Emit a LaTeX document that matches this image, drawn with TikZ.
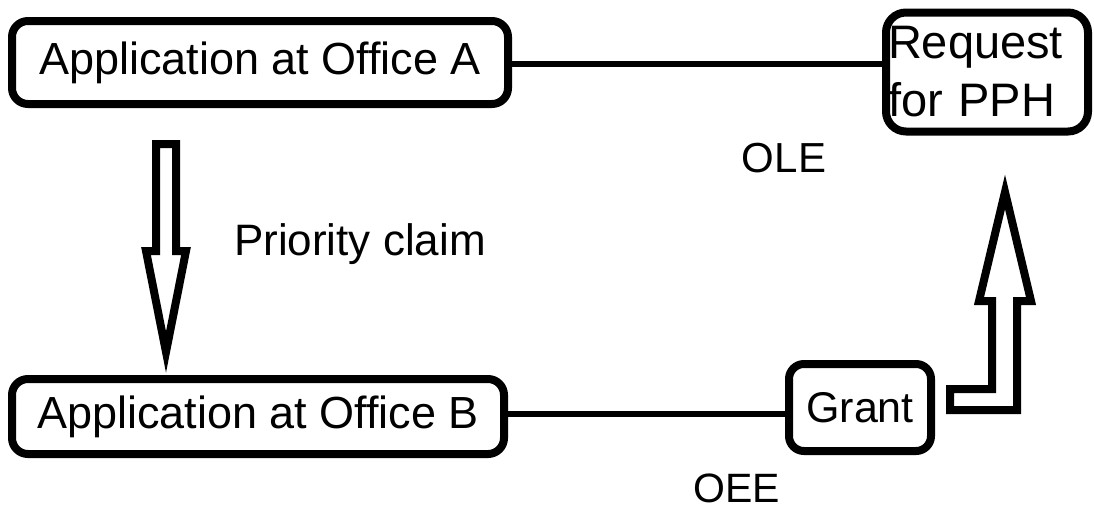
\documentclass[tikz,border=0pt]{standalone}
\usepackage{fontspec}
\setmainfont{Liberation Sans}
\begin{document}
\begin{tikzpicture}[x=1pt,y=-1pt,
  box/.style={draw, line width=8pt, rounded corners=16pt, inner sep=0pt},
  lbl/.style={anchor=base, inner sep=0pt},
  link/.style={line width=6pt},
  hollow/.style={line width=8pt, line join=miter, miter limit=20}]
\useasboundingbox (0,0) rectangle (1094,509);

\node[box, minimum width=496pt, minimum height=83pt, font=\fontsize{45}{54}\selectfont] (A) at (260,62.5) {Application at Office A};
\node[box, minimum width=492pt, minimum height=75pt, font=\fontsize{45}{54}\selectfont] (B) at (258,416.5) {Application at Office B};
\node[box, rounded corners=20pt, minimum height=119pt, text width=198pt, inner xsep=2pt, align=left, font=\fontsize{47}{58}\selectfont] (R) at (987,72) {Request\\for PPH};
\node[box, rounded corners=15pt, minimum width=142pt, minimum height=87pt, font=\fontsize{43}{50}\selectfont] (G) at (860,407.5) {Grant};

\draw[link] (A.east |- 0,64) -- (R.west |- 0,64);
\draw[link] (B.east |- 0,414) -- (G.west |- 0,414);

\node[lbl, font=\fontsize{42}{50}\selectfont] (ole) at (784,172) {OLE};
\node[lbl, font=\fontsize{41}{50}\selectfont] (oee) at (737,502) {OEE};
\node[lbl, font=\fontsize{44}{50}\selectfont] (pc) at (360,255) {Priority claim};

% hollow down arrow
\draw[hollow] (156,144) -- (176,144) -- (176,251) -- (186,251) -- (166,352) -- (146,251) -- (156,251) -- cycle;
% hollow L-shaped up arrow
\draw[hollow] (950,389) -- (992,389) -- (992,301) -- (979,301) -- (1005,192) -- (1031,301) -- (1017,301) -- (1017,410) -- (950,410) -- cycle;
\end{tikzpicture}
\end{document}
